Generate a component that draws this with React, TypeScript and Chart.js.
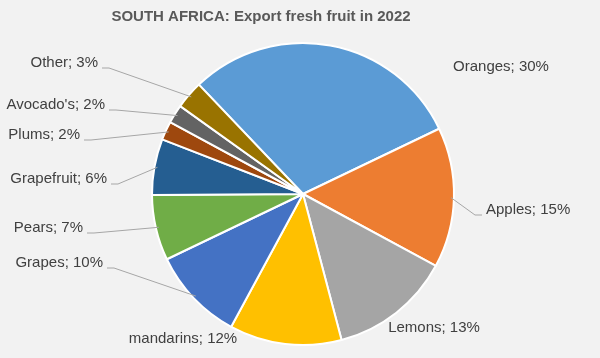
import React, { useEffect, useRef } from "react";
import { Chart, registerables } from "chart.js";

Chart.register(...registerables);

const TITLE = "SOUTH AFRICA: Export fresh fruit in 2022";
const categories = ["Oranges", "Apples", "Lemons", "mandarins", "Grapes", "Pears", "Grapefruit", "Plums", "Avocado's", "Other"];
const shares = [30, 15, 13, 12, 10, 7, 6, 2, 2, 3];
const colors = ["#5b9bd5", "#ed7d31", "#a5a5a5", "#ffc000", "#4472c4", "#70ad47", "#255e91", "#9e480e", "#636363", "#997300"];

// label layout (text anchor position, alignment, whether a leader line is drawn)
const labelLayout = [
  { x: 501, y: 67, align: "center", leader: false },
  { x: 486, y: 210, align: "left", leader: true },
  { x: 434, y: 328, align: "center", leader: false },
  { x: 183, y: 339, align: "center", leader: false },
  { x: 103, y: 263, align: "right", leader: true },
  { x: 83, y: 228, align: "right", leader: true },
  { x: 107, y: 179, align: "right", leader: true },
  { x: 80, y: 135, align: "right", leader: true },
  { x: 105, y: 105, align: "right", leader: true },
  { x: 98, y: 63, align: "right", leader: true },
];

const FONT = "'Liberation Sans', Arial, sans-serif";

const labelPlugin = {
  id: "pieLabels",
  afterDraw(chart: any) {
    const ctx = chart.ctx;
    ctx.save();
    // title
    ctx.fillStyle = "#595959";
    ctx.font = `bold 15px ${FONT}`;
    ctx.textAlign = "center";
    ctx.textBaseline = "middle";
    ctx.fillText(TITLE, 261, 17);

    const meta = chart.getDatasetMeta(0);
    ctx.font = `15px ${FONT}`;
    meta.data.forEach((arc: any, i: number) => {
      const p = arc.getProps(["x", "y", "startAngle", "endAngle", "outerRadius"], true);
      const mid = (p.startAngle + p.endAngle) / 2;
      const r = p.outerRadius - 3;
      const ax = p.x + Math.cos(mid) * r;
      const ay = p.y + Math.sin(mid) * r;
      const L = labelLayout[i];
      const text = `${categories[i]}; ${shares[i]}%`;
      if (L.leader) {
        let sx: number, ex: number;
        if (L.align === "right") {
          sx = L.x + 4;
          ex = sx + 7;
        } else {
          sx = L.x - 4;
          ex = sx - 7;
        }
        const sy = L.y + 5;
        ctx.strokeStyle = "#a6a6a6";
        ctx.lineWidth = 1;
        ctx.beginPath();
        ctx.moveTo(sx, sy);
        ctx.lineTo(ex, sy);
        ctx.lineTo(ax, ay);
        ctx.stroke();
      }
      ctx.fillStyle = "#404040";
      ctx.textAlign = L.align as CanvasTextAlign;
      ctx.textBaseline = "middle";
      ctx.fillText(text, L.x, L.y);
    });
    ctx.restore();
  },
};

export default function App() {
  const ref = useRef<HTMLCanvasElement>(null);
  useEffect(() => {
    const chart = new Chart(ref.current!, {
      type: "pie",
      data: {
        labels: categories,
        datasets: [
          {
            data: shares,
            backgroundColor: colors,
            borderColor: "#ffffff",
            borderWidth: 2,
          },
        ],
      },
      options: {
        responsive: false,
        animation: false,
        rotation: -43.6,
        layout: { padding: { left: 151, right: 145, top: 42, bottom: 12 } },
        plugins: {
          legend: { display: false },
          tooltip: { enabled: false },
          title: { display: false },
        },
      },
      plugins: [labelPlugin],
    });
    return () => chart.destroy();
  }, []);
  return (
    <div style={{ position: "fixed", left: 0, top: 0, width: 600, height: 358, background: "#f2f2f2" }}>
      <canvas ref={ref} width={600} height={358} style={{ width: 600, height: 358, display: "block" }} />
    </div>
  );
}
